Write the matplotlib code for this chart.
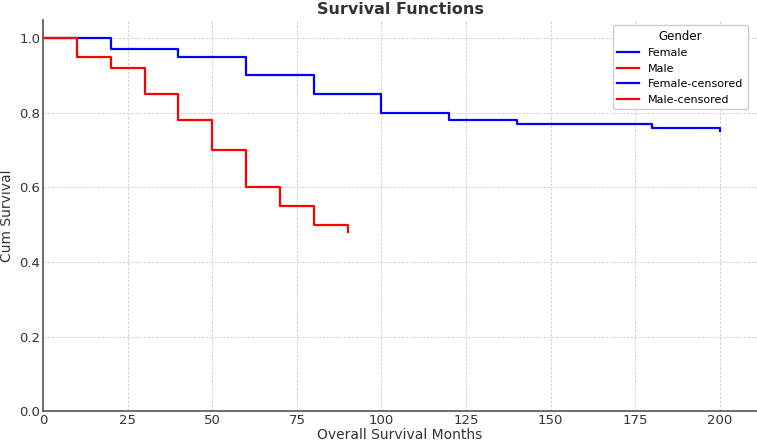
import numpy as np
import matplotlib
matplotlib.use("Agg")
import matplotlib.pyplot as plt

# Kaplan-Meier step values
female_months = [0, 20, 40, 60, 80, 100, 120, 140, 180, 200]
female_surv = [1.0, 0.97, 0.95, 0.90, 0.85, 0.80, 0.78, 0.77, 0.76, 0.75]
male_months = [0, 10, 20, 30, 40, 50, 60, 70, 80, 90]
male_surv = [1.0, 0.95, 0.92, 0.85, 0.78, 0.70, 0.60, 0.55, 0.50, 0.48]

xticks = [0, 25, 50, 75, 100, 125, 150, 175, 200]
yticks = [0.0, 0.2, 0.4, 0.6, 0.8, 1.0]

fig = plt.figure(figsize=(7.57, 4.44), dpi=100)
ax = fig.add_axes([0.057, 0.074, 0.943, 0.882])

ax.step(female_months, female_surv, where='post', color='blue', lw=1.6, label='Female')
ax.step(male_months, male_surv, where='post', color='red', lw=1.6, label='Male')
# censored series appear only in the legend
ax.plot([], [], color='blue', lw=1.6, label='Female-censored')
ax.plot([], [], color='red', lw=1.6, label='Male-censored')

ax.set_xlim(0, 211)
ax.set_ylim(0, 1.05)
ax.set_xticks(xticks)
ax.set_yticks(yticks)
ax.tick_params(length=0, labelsize=9.5, colors='#333333', pad=2)
ax.grid(True, ls=(0, (3, 2)), color='#c8c8c8', lw=0.6)
for s in ['top', 'right']:
    ax.spines[s].set_visible(False)
for s in ['left', 'bottom']:
    ax.spines[s].set_color('#555555')
    ax.spines[s].set_linewidth(1.2)

ax.set_title('Survival Functions', fontweight='bold', fontsize=11.5, color='#333333', pad=4)
ax.set_xlabel('Overall Survival Months', fontsize=10, color='#333333', labelpad=1)
ax.set_ylabel('Cum Survival', fontsize=10, color='#333333', labelpad=4)
leg = ax.legend(title='Gender', loc='upper right', fontsize=8, title_fontsize=8.5,
                bbox_to_anchor=(0.995, 1.0), framealpha=1, edgecolor='#cccccc')

fig.savefig('out.png', dpi=100)
